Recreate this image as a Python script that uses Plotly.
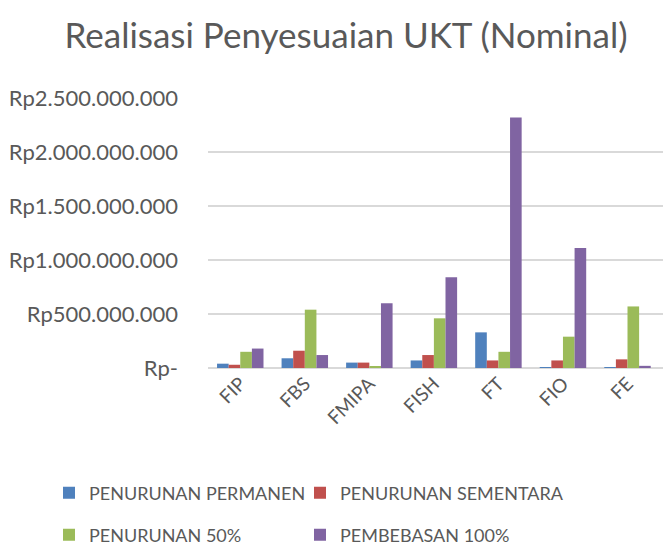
import plotly.graph_objects as go

categories = ["FIP", "FBS", "FMIPA", "FISH", "FT", "FIO", "FE"]
series_names = ["PENURUNAN PERMANEN", "PENURUNAN SEMENTARA", "PENURUNAN 50%", "PEMBEBASAN 100%"]
permanen = [40e6, 90e6, 50e6, 70e6, 330e6, 3e6, 5e6]
sementara = [30e6, 160e6, 50e6, 120e6, 70e6, 70e6, 80e6]
penurunan50 = [150e6, 540e6, 10e6, 460e6, 150e6, 290e6, 570e6]
pembebasan = [180e6, 120e6, 600e6, 840e6, 2320e6, 1110e6, 20e6]
tick_vals = [0, 500e6, 1000e6, 1500e6, 2000e6, 2500e6]
tick_text = ["Rp-", "Rp500.000.000", "Rp1.000.000.000", "Rp1.500.000.000", "Rp2.000.000.000", "Rp2.500.000.000"]

colors = ["#4F81BD", "#C0504D", "#9BBB59", "#8064A2"]
legend_ids = ["legend", "legend2", "legend3", "legend4"]
legend_pos = [(49, 493), (300, 493), (49, 535), (300, 535)]
values = [permanen, sementara, penurunan50, pembebasan]

FONT = "Lato"
TXT = "#595959"
W, H = 663, 547

fig = go.Figure()
for name, vals, col, lg in zip(series_names, values, colors, legend_ids):
    fig.add_trace(go.Bar(x=categories, y=vals, name=name, marker_color=col,
                         marker_line_width=0, legend=lg, showlegend=True))

legend_layout = {}
for lg, (px, py) in zip(legend_ids, legend_pos):
    legend_layout[lg] = dict(orientation="v", xref="container", yref="container",
                             x=px / W, y=(H - py) / H,
                             xanchor="left", yanchor="middle",
                             font=dict(family=FONT, size=18, color=TXT),
                             itemwidth=30, bgcolor="rgba(0,0,0,0)")

fig.update_layout(
    width=W, height=H, showlegend=True,
    paper_bgcolor="white", plot_bgcolor="white",
    margin=dict(l=208, r=0, t=98, b=179, autoexpand=False),
    barmode="group", bargap=0.28, bargroupgap=0.0,
    title=dict(text="Realisasi Penyesuaian UKT (Nominal)", x=346 / W, xanchor="center",
               xref="container", yref="container", y=1 - 36 / H, yanchor="middle",
               font=dict(family=FONT, size=35, color=TXT)),
    xaxis=dict(range=[-0.5, 6.55], tickangle=-45, showline=False, showgrid=False,
               ticks="", automargin=False,
               tickfont=dict(family=FONT, size=19, color=TXT)),
    yaxis=dict(range=[0, 2.5e9], tickvals=tick_vals, ticktext=tick_text,
               showgrid=True, gridcolor="#D9D9D9", gridwidth=2,
               zeroline=True, zerolinecolor="#D9D9D9", zerolinewidth=2,
               ticks="", ticklabelstandoff=29, automargin=False,
               tickfont=dict(family=FONT, size=22, color=TXT)),
    **legend_layout,
)

fig.write_html("out.html", config={"displayModeBar": False},
               post_script="document.body.style.margin='0';")
